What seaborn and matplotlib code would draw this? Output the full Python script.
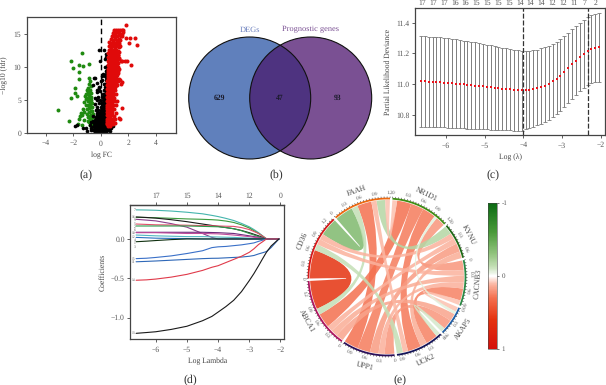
import numpy as np
import seaborn as sns
import matplotlib.pyplot as plt
from matplotlib.patches import Circle, PathPatch
from matplotlib.path import Path
from matplotlib.cm import ScalarMappable
from matplotlib.colors import LinearSegmentedColormap, Normalize

W, H = 606, 385

# panel (a) volcano points
red_x = [1.82, 2.45, 1.85, 2.1, 2.05, 2.65, 2.2, 1.75, 1.9, 1.55, 1.55, 1.3, 1.4,
         0.95, 1.1, 1.25, 1.4, 1.55, 1.62, 0.85, 0.96, 1.05, 1.2, 1.35, 1.5, 1.6,
         0.8, 0.92, 1.05, 1.18, 1.3, 1.45, 1.55, 0.72, 0.85, 1.0, 1.15, 1.3, 1.42,
         0.6, 0.75, 0.9, 1.05, 1.2, 1.35, 0.6, 0.72, 0.88, 1.0, 1.15, 1.3, 1.38,
         0.58, 0.7, 0.85, 1.0, 1.12, 1.28, 0.55, 0.68, 0.82, 0.95, 1.08, 1.25,
         0.55, 0.66, 0.8, 0.92, 1.1, 1.32, 0.52, 0.65, 0.78, 0.9, 1.05, 1.2, 1.45,
         0.52, 0.62, 0.75, 0.88, 1.02, 1.18, 0.5, 0.62, 0.72, 0.86, 1.0, 1.15, 1.3,
         0.5, 0.6, 0.72, 0.85, 0.98, 1.12, 1.28, 0.5, 0.6, 0.7, 0.82, 0.95, 1.08, 1.35,
         0.48, 0.58, 0.68, 0.8, 0.92, 1.05, 1.25, 0.48, 0.58, 0.68, 0.78, 0.9, 1.02, 1.18,
         0.48, 0.56, 0.66, 0.78, 0.88, 1.0, 1.38, 0.46, 0.56, 0.66, 0.76, 0.9, 1.1, 1.5,
         0.46, 0.55, 0.64, 0.76, 0.86, 0.98, 1.45, 0.46, 0.55, 0.64, 0.74, 0.84, 1.0, 1.2,
         0.45, 0.54, 0.64, 0.74, 0.86, 1.12, 0.45, 0.54, 0.62, 0.72, 0.82, 0.98,
         0.45, 0.52, 0.62, 0.72, 0.84, 1.08, 0.45, 0.52, 0.6, 0.7, 0.8, 0.95,
         0.45, 0.52, 0.6, 0.68, 0.78, 1.02, 0.45, 0.52, 0.6, 0.68, 0.8, 0.9,
         0.45, 0.5, 0.58, 0.66, 0.76, 0.88, 0.45, 0.5, 0.58, 0.66, 0.72, 1.0,
         0.7, 0.85, 1.02, 1.18, 1.34, 0.66, 0.8, 0.98, 1.14, 1.3, 0.64, 0.78, 0.96, 1.12, 1.28,
         0.6, 0.74, 0.94, 1.1, 1.3, 0.58, 0.72, 0.92, 1.08, 1.25, 0.56, 0.7, 0.9, 1.06, 1.28,
         0.54, 0.68, 0.86, 1.04, 1.22, 0.54, 0.66, 0.84, 1.0, 1.2, 0.52, 0.64, 0.82, 0.96, 1.15,
         0.52, 0.62, 0.8, 0.94, 1.08, 0.5, 0.6, 0.78, 0.92, 1.05, 0.5, 0.6, 0.76, 0.9,
         0.5, 0.58, 0.72, 0.88, 0.5, 0.58, 0.72, 0.86, 0.5, 0.56, 0.7, 0.84, 0.48, 0.56, 0.68, 0.8]
red_y = [16.5, 14.5, 14.4, 14.4, 13.7, 13.4, 10.3, 11.0, 10.9, 11.0, 3.8, 2.3, 2.1,
         15.6, 15.7, 15.6, 15.7, 15.6, 15.7, 15.2, 15.3, 15.1, 15.3, 15.2, 15.1, 15.3,
         14.8, 14.7, 14.8, 14.7, 14.9, 14.7, 14.8, 14.3, 14.2, 14.3, 14.2, 14.3, 14.2,
         13.8, 13.7, 13.8, 13.7, 13.8, 13.7, 13.2, 13.1, 13.2, 13.1, 13.3, 13.1, 13.2,
         12.7, 12.6, 12.7, 12.6, 12.7, 12.5, 12.1, 12.0, 12.1, 12.0, 12.1, 11.9,
         11.5, 11.4, 11.5, 11.4, 11.5, 11.4, 10.9, 10.8, 10.9, 10.8, 10.9, 10.8, 10.9,
         10.3, 10.2, 10.3, 10.2, 10.3, 10.2, 9.7, 9.6, 9.7, 9.6, 9.7, 9.6, 9.8,
         9.1, 9.0, 9.1, 9.0, 9.1, 9.0, 9.1, 8.5, 8.4, 8.5, 8.4, 8.5, 8.4, 8.2,
         7.9, 7.8, 7.9, 7.8, 7.9, 7.8, 7.9, 7.3, 7.2, 7.3, 7.2, 7.3, 7.2, 7.3,
         6.7, 6.6, 6.7, 6.6, 6.7, 6.6, 8.0, 6.1, 6.0, 6.1, 6.0, 6.1, 6.0, 7.8,
         5.5, 5.4, 5.5, 5.4, 5.5, 5.4, 7.4, 4.9, 4.8, 4.9, 4.8, 4.9, 4.8, 4.9,
         4.3, 4.2, 4.3, 4.2, 4.3, 4.2, 3.7, 3.6, 3.7, 3.6, 3.7, 3.6,
         3.2, 3.1, 3.2, 3.1, 3.2, 3.1, 2.7, 2.6, 2.7, 2.6, 2.7, 2.6,
         2.2, 2.1, 2.2, 2.1, 2.2, 2.1, 1.8, 1.7, 1.8, 1.7, 1.8, 1.7,
         1.4, 1.3, 1.4, 1.3, 1.4, 1.3, 1.5, 1.1, 1.2, 1.1, 1.6, 1.5,
         13.45, 13.5, 13.45, 13.5, 13.45, 12.4, 12.35, 12.4, 12.35, 12.4, 11.8, 11.75, 11.8, 11.75, 11.8,
         11.2, 11.15, 11.2, 11.15, 11.2, 10.6, 10.55, 10.6, 10.55, 10.6, 10.0, 9.95, 10.0, 9.95, 10.0,
         9.4, 9.35, 9.4, 9.35, 9.4, 8.8, 8.75, 8.8, 8.75, 8.8, 8.2, 8.15, 8.2, 8.15, 8.2,
         7.6, 7.55, 7.6, 7.55, 7.6, 7.0, 6.95, 7.0, 6.95, 7.0, 6.4, 6.35, 6.4, 6.35,
         5.8, 5.75, 5.8, 5.75, 5.2, 5.15, 5.2, 5.15, 4.6, 4.55, 4.6, 4.55, 4.0, 3.95, 4.0, 3.95]
green_x = [-1.4, -2.13, -2.0, -1.6, -1.33, -0.87, -1.57, -1.62, -0.85, -0.8, -1.84, -1.86,
           -1.7, -2.2, -3.1, -2.33, -1.65, -0.85, -0.75, -0.9, -1.0, -0.78, -0.92, -1.05,
           -0.72, -0.88, -1.15, -0.7, -0.82, -0.98, -1.1, -0.68, -0.8, -0.95, -1.2, -0.66,
           -0.76, -0.9, -1.05, -1.3, -0.64, -0.74, -0.86, -1.0, -1.25, -1.45, -0.62, -0.72,
           -0.85, -1.0, -1.35, -0.6, -0.7, -0.82, -0.95, -1.5, -0.58, -0.68, -0.8, -0.92,
           -0.62, -0.72, -0.85, -0.58, -0.66, -0.76, -1.55, -1.2, -1.4]
green_y = [12.1, 10.9, 9.85, 10.3, 10.2, 10.55, 9.3, 8.2, 8.3, 7.9, 6.9, 6.1,
           5.7, 5.3, 3.45, 1.9, 1.4, 7.5, 7.2, 6.9, 6.6, 6.6, 6.3, 6.0,
           6.1, 5.8, 5.7, 5.5, 5.4, 5.3, 5.1, 5.0, 4.9, 4.8, 4.7, 4.5,
           4.4, 4.3, 4.2, 3.6, 4.0, 3.9, 3.8, 3.7, 3.2, 3.1, 3.4, 3.3,
           3.2, 2.9, 2.7, 2.9, 2.8, 2.6, 2.4, 2.6, 2.4, 2.3, 2.1, 1.9,
           1.9, 1.7, 1.6, 1.5, 1.3, 1.2, 2.2, 2.0, 1.2]
black_x = [-0.45, -0.35, -0.2, -0.1, 0.05, 0.2, 0.3, 0.4, -0.55, -0.4, -0.25, -0.1, 0.05, 0.2, 0.35, 0.45,
           -0.5, -0.35, -0.2, -0.05, 0.1, 0.25, 0.4, -0.48, -0.3, -0.15, 0.0, 0.15, 0.3, 0.42,
           -0.42, -0.28, -0.12, 0.02, 0.18, 0.32, 0.44, -0.38, -0.22, -0.08, 0.08, 0.22, 0.36,
           -0.3, -0.15, 0.0, 0.14, 0.28, 0.4, -0.34, -0.2, -0.02, 0.12, 0.26, 0.38,
           -0.25, 0.0, 0.15, 0.25, 0.35, 0.44, -0.4, -0.1, 0.08, 0.2, 0.32, 0.42,
           -0.3, -0.05, 0.18, 0.28, 0.38, 0.45, -0.45, -0.18, 0.1, 0.24, 0.34, 0.42,
           0.15, 0.26, 0.36, 0.44, -0.28, -0.08, 0.2, 0.3, 0.4, 0.28, 0.36, 0.43,
           -0.55, -0.3, 0.22, 0.32, 0.4, -0.42, 0.12, 0.35, 0.42, 0.3, 0.38, 0.44,
           0.18, 0.1, 0.4, -0.48, -0.1, 0.35, 0.28, 0.42, -0.05, 0.44, 0.3, 0.38,
           -1.9, -1.75, -1.3, -1.05, -0.8, -0.7, -1.0, -0.65, -0.7, 0.5, 0.6, 0.72, 0.85,
           0.55, 0.65, -0.55, -0.75, -0.6, -0.15, 0.25, 0.02, -0.12, -0.28, 0.38,
           -0.42, -0.28, -0.14, 0.0, 0.14, 0.28, 0.4, -0.46, -0.32, -0.18, -0.04, 0.1, 0.24, 0.38,
           -0.44, -0.3, -0.16, -0.02, 0.12, 0.26, 0.4, -0.4, -0.26, -0.1, 0.04, 0.18, 0.32, 0.42,
           -0.32, -0.18, -0.04, 0.1, 0.24, 0.38, -0.26, -0.1, 0.06, 0.2, 0.34, 0.44,
           0.04, 0.18, 0.3, 0.42, 0.1, 0.22, 0.34, 0.44, 0.16, 0.3, 0.4, 0.2, 0.32, 0.42,
           0.24, 0.34, 0.44, 0.32, 0.4, 0.36, 0.44, 0.38, 0.45]
black_y = [0.1, 0.1, 0.1, 0.1, 0.1, 0.1, 0.1, 0.1, 0.5, 0.5, 0.5, 0.5, 0.5, 0.5, 0.5, 0.5,
           1.0, 1.0, 1.0, 1.0, 1.0, 1.0, 1.0, 1.5, 1.5, 1.5, 1.5, 1.5, 1.5, 1.5,
           2.0, 2.0, 2.0, 2.0, 2.0, 2.0, 2.0, 2.5, 2.5, 2.5, 2.5, 2.5, 2.5,
           3.0, 3.0, 3.0, 3.0, 3.0, 3.0, 3.5, 3.5, 3.5, 3.5, 3.5, 3.5,
           4.0, 4.0, 4.0, 4.0, 4.0, 4.0, 4.4, 4.5, 4.5, 4.5, 4.5, 4.5,
           5.0, 5.0, 5.0, 5.0, 5.0, 5.0, 5.4, 5.5, 5.5, 5.5, 5.5, 5.5,
           6.0, 6.0, 6.0, 6.0, 6.2, 6.4, 6.5, 6.5, 6.5, 7.0, 7.0, 7.0,
           7.3, 7.6, 7.5, 7.5, 7.5, 8.3, 8.0, 8.0, 8.0, 8.6, 8.5, 8.5,
           9.0, 8.7, 9.0, 8.4, 6.8, 9.5, 10.0, 9.6, 11.0, 10.2, 11.2, 12.0,
           1.1, 1.2, 0.8, 0.8, 1.2, 0.7, 0.3, 0.9, 1.6, 0.4, 0.6, 0.8, 1.0,
           0.9, 0.3, 2.6, 0.4, 1.8, 12.6, 12.7, 7.9, 7.0, 6.6, 11.6,
           0.3, 0.3, 0.3, 0.3, 0.3, 0.3, 0.3, 0.8, 0.8, 0.8, 0.8, 0.8, 0.8, 0.8,
           1.3, 1.3, 1.3, 1.3, 1.3, 1.3, 1.3, 1.8, 1.8, 1.8, 1.8, 1.8, 1.8, 1.8,
           2.3, 2.3, 2.3, 2.3, 2.3, 2.3, 2.8, 2.8, 2.8, 2.8, 2.8, 2.8,
           3.3, 3.3, 3.3, 3.3, 3.8, 3.8, 3.8, 3.8, 4.3, 4.3, 4.3, 4.8, 4.8, 4.8,
           5.3, 5.3, 5.3, 5.8, 5.8, 6.3, 6.3, 6.8, 7.3]

# panel (b) venn counts
venn_names = ['DEGs', 'Prognostic genes']
venn_counts = [629, 47, 93]

# panel (c) cross validation
cv_lambda = [-6.64, -6.54, -6.44, -6.34, -6.24, -6.14, -6.04, -5.94, -5.84, -5.74, -5.64, -5.54,
             -5.44, -5.34, -5.24, -5.14, -5.04, -4.94, -4.84, -4.74, -4.64, -4.54, -4.44, -4.34,
             -4.24, -4.14, -4.04, -3.94, -3.84, -3.74, -3.64, -3.54, -3.44, -3.34, -3.24, -3.14,
             -3.04, -2.94, -2.84, -2.74, -2.64, -2.54, -2.44, -2.34, -2.24, -2.14, -2.04]
cv_mean = [11.018, 11.017, 11.016, 11.015, 11.013, 11.011, 11.009, 11.007, 11.005, 11.003, 11.000, 10.998,
           10.996, 10.993, 10.990, 10.988, 10.985, 10.983, 10.980, 10.977, 10.974, 10.971, 10.968, 10.965,
           10.963, 10.961, 10.960, 10.960, 10.962, 10.966, 10.972, 10.980, 10.990, 11.003, 11.018, 11.035,
           11.055, 11.078, 11.103, 11.128, 11.153, 11.177, 11.198, 11.215, 11.228, 11.237, 11.240]
cv_upper = [11.312, 11.311, 11.310, 11.308, 11.306, 11.304, 11.301, 11.298, 11.295, 11.292, 11.288, 11.284,
            11.280, 11.276, 11.272, 11.268, 11.263, 11.258, 11.253, 11.248, 11.243, 11.238, 11.233, 11.228,
            11.224, 11.220, 11.217, 11.215, 11.217, 11.220, 11.225, 11.232, 11.240, 11.250, 11.262, 11.276,
            11.292, 11.311, 11.333, 11.356, 11.378, 11.400, 11.420, 11.436, 11.450, 11.459, 11.465]
cv_lower = [10.722, 10.722, 10.721, 10.720, 10.719, 10.718, 10.717, 10.716, 10.715, 10.713, 10.712, 10.711,
            10.710, 10.708, 10.707, 10.706, 10.705, 10.704, 10.703, 10.702, 10.701, 10.700, 10.699, 10.698,
            10.697, 10.697, 10.697, 10.705, 10.712, 10.720, 10.730, 10.738, 10.750, 10.768, 10.785, 10.805,
            10.825, 10.848, 10.875, 10.900, 10.928, 10.955, 10.975, 10.995, 11.008, 11.014, 11.016]
cv_top_pos = [-6.61, -6.33, -6.05, -5.77, -5.49, -5.21, -4.93, -4.65, -4.37, -4.09, -3.81, -3.54,
              -3.26, -2.98, -2.70, -2.42, -2.14]
cv_top_labels = ['17', '17', '17', '16', '16', '15', '15', '15', '15', '14', '14', '14',
                 '12', '12', '11', '7', '2']
cv_vlines = [-4.0, -2.33]

# panel (d) coefficient paths
path_lambda = [-6.63, -6.3, -6.0, -5.5, -5.0, -4.5, -4.2, -4.0, -3.75, -3.5, -3.25, -3.0, -2.85, -2.7, -2.57,
               -2.45, -2.3, -2.05]
path_values = [
    [0.37, 0.368, 0.365, 0.355, 0.34, 0.32, 0.30, 0.285, 0.262, 0.235, 0.198, 0.155, 0.12, 0.08, 0.04, 0, 0, 0],
    [0.275, 0.273, 0.27, 0.263, 0.255, 0.25, 0.245, 0.24, 0.228, 0.21, 0.18, 0.14, 0.105, 0.07, 0.035, 0, 0, 0],
    [0.28, 0.273, 0.265, 0.245, 0.22, 0.19, 0.172, 0.16, 0.145, 0.13, 0.108, 0.08, 0.06, 0.04, 0.02, 0, 0, 0],
    [0.25, 0.24, 0.23, 0.195, 0.15, 0.07, 0.02, 0, 0, 0, 0, 0, 0, 0, 0, 0, 0, 0],
    [0.19, 0.185, 0.18, 0.178, 0.175, 0.17, 0.167, 0.165, 0.162, 0.16, 0.145, 0.12, 0.095, 0.07, 0.035, 0.005, 0, 0],
    [0.165, 0.165, 0.165, 0.165, 0.165, 0.16, 0.157, 0.155, 0.145, 0.13, 0.105, 0.07, 0.05, 0.03, 0.015, 0, 0, 0],
    [0.085, 0.085, 0.085, 0.085, 0.085, 0.085, 0.082, 0.08, 0.075, 0.07, 0.055, 0.04, 0.03, 0.02, 0.01, 0, 0, 0],
    [0.08, 0.08, 0.08, 0.075, 0.07, 0.07, 0.067, 0.065, 0.058, 0.05, 0.04, 0.03, 0.022, 0.015, 0.007, 0, 0, 0],
    [0.05, 0.045, 0.04, 0.035, 0.03, 0.03, 0.027, 0.025, 0.022, 0.02, 0.015, 0.01, 0.005, 0, 0, 0, 0, 0],
    [0.02, 0.015, 0.01, 0.007, 0.005, 0, 0, 0, 0, 0, 0, 0, 0, 0, 0, 0, 0, 0],
    [-0.035, -0.028, -0.02, -0.008, 0, 0, 0, 0, 0, 0, 0, 0, 0, 0, 0, 0, 0, 0],
    [-0.25, -0.245, -0.235, -0.215, -0.185, -0.15, -0.11, -0.1, -0.095, -0.085, -0.075, -0.06, -0.05, -0.03, -0.015,
     0, 0, 0],
    [-0.29, -0.285, -0.28, -0.27, -0.26, -0.25, -0.246, -0.245, -0.24, -0.235, -0.23, -0.22, -0.21, -0.19, -0.175,
     -0.16, -0.11, 0],
    [-0.525, -0.52, -0.51, -0.485, -0.45, -0.40, -0.36, -0.34, -0.30, -0.26, -0.22, -0.17, -0.125, -0.07, -0.035,
     0, 0, 0],
    [-1.2, -1.19, -1.18, -1.15, -1.11, -1.04, -0.985, -0.93, -0.86, -0.78, -0.67, -0.53, -0.44, -0.34, -0.25,
     -0.17, -0.09, 0],
]
path_colors = ['#45b5ad', '#3c9a3c', '#1a1a1a', '#8a3d8a', '#e0506a', '#2f9a4a', '#6a2a7a', '#c04a9a',
               '#50b8c0', '#2a70c0', '#103010', '#3a70c8', '#2f68b8', '#e03a4a', '#1a1a1a']
path_labels = ['7', '9', '16', '5', '2', '6', '10', '12', '4', '1', '3', '15', '11', '14', '13']
path_top_pos = [-6, -5, -4, -3, -2]
path_top_labels = ['17', '15', '14', '12', '0']

# panel (e) chord diagram
gene_names = ['NR1D1', 'KYNU', 'CACNB3', 'AKAP5', 'UCK2', 'UPP1', 'ABCA1', 'CD36', 'FAAH']
gene_colors = ['#3f8f12', '#1f6a14', '#2a8a45', '#1f5fa8', '#14145a', '#2c0f5a', '#b01560', '#d81818', '#f06a10']
link_from = [6, 7, 6, 7, 7, 7, 6, 6, 6, 6, 8, 8, 8, 8, 0, 0, 0, 0, 1, 1, 2, 2, 2, 3, 3]
link_to = [7, 8, 8, 4, 1, 2, 0, 1, 2, 3, 5, 4, 0, 1, 5, 4, 2, 3, 5, 4, 5, 4, 3, 5, 4]
link_value = [0.60, -0.38, -0.13, -0.13, 0.12, 0.12, 0.30, 0.12, 0.14, 0.16, 0.30, 0.11, 0.10, -0.18,
              0.27, 0.28, 0.20, -0.06, 0.18, 0.14, 0.13, 0.25, 0.10, 0.20, -0.09]
cbar_ticks = [-1, 0, 1]

sns.set_theme(style='ticks')
plt.rcParams['font.family'] = ['Liberation Serif', 'DejaVu Sans']
plt.rcParams['text.hinting'] = 'no_hinting'
plt.rcParams['axes.edgecolor'] = '#444444'
plt.rcParams['axes.linewidth'] = 0.9
plt.rcParams['xtick.color'] = '#444444'
plt.rcParams['ytick.color'] = '#444444'
plt.rcParams['xtick.labelcolor'] = '#555555'
plt.rcParams['ytick.labelcolor'] = '#555555'
plt.rcParams['axes.labelcolor'] = '#444444'
plt.rcParams['xtick.labelsize'] = 5.5
plt.rcParams['ytick.labelsize'] = 5.5
plt.rcParams['axes.labelsize'] = 5.5
plt.rcParams['xtick.major.size'] = 2
plt.rcParams['ytick.major.size'] = 2
plt.rcParams['xtick.major.width'] = 0.6
plt.rcParams['ytick.major.width'] = 0.6
plt.rcParams['xtick.major.pad'] = 3
plt.rcParams['ytick.major.pad'] = 2

fig = plt.figure(figsize=(W / 100, H / 100), dpi=100)


def px_axes(left, top, right, bottom):
    return fig.add_axes([left / W, 1 - bottom / H, (right - left) / W, (bottom - top) / H])


# (a) volcano
ax = px_axes(27, 17, 175.5, 133)
sns.scatterplot(x=green_x, y=green_y, color='#1f8a10', s=8, linewidth=0, ax=ax)
sns.scatterplot(x=black_x, y=black_y, color='black', s=7, linewidth=0, ax=ax)
sns.scatterplot(x=red_x, y=red_y, color='#e00a0a', s=8.5, linewidth=0, ax=ax)
ax.axvline(0, color='black', lw=1.0, ls=(0, (4, 2.5)))
ax.set_xlim(-5.36, 5.42)
ax.set_ylim(0, 17.65)
ax.set_xticks([-4, -2, 0, 2, 4])
ax.set_yticks([0, 5, 10, 15])
ax.set_xlabel('log FC', labelpad=3)
ax.set_ylabel('\u2212log10 (fdr)', labelpad=4)

# (c) cross validation curve
ax = px_axes(415, 8, 605, 135)
ax.errorbar(cv_lambda, cv_mean, yerr=[np.subtract(cv_mean, cv_lower), np.subtract(cv_upper, cv_mean)],
            fmt='none', ecolor='#7d7d7d', elinewidth=0.7, capsize=1.5, capthick=0.6)
sns.scatterplot(x=cv_lambda, y=cv_mean, color='#e8141c', s=4, marker='s', linewidth=0, ax=ax, zorder=3)
for v in cv_vlines:
    ax.axvline(v, color='#333333', lw=0.9, ls=(0, (4, 1.5)))
ax.set_xlim(-6.795, -1.89)
ax.set_ylim(10.668, 11.496)
ax.set_xticks([-6, -5, -4, -3, -2])
ax.set_yticks([10.8, 11.0, 11.2, 11.4])
ax.set_yticklabels(['10.8', '11.0', '11.2', '11.4'])
ax.set_xlabel('Log (\u03bb)', labelpad=3)
ax.set_ylabel('Partial Likelihood Deviance', labelpad=3)
top = ax.secondary_xaxis('top')
top.set_xticks(cv_top_pos)
top.set_xticklabels(cv_top_labels)
top.tick_params(length=0, pad=1)
top.spines['top'].set_visible(False)

# (d) coefficient paths
ax = px_axes(130.3, 205, 284, 339.3)
for vals, col in zip(path_values, path_colors):
    sns.lineplot(x=path_lambda, y=vals, color=col, lw=0.8, errorbar=None, ax=ax)
# spread the tiny start labels so they stay readable
label_y = None
for i in np.argsort([-v[0] for v in path_values]):
    yp = path_values[i][0]
    if label_y is not None and label_y - yp < 0.042:
        yp = label_y - 0.042
    label_y = yp
    ax.text(-6.65, yp, path_labels[i], fontsize=2.6, color='#555555', ha='right', va='center')
ax.set_xlim(-6.817, -1.885)
ax.set_ylim(-1.276, 0.432)
ax.set_xticks([-6, -5, -4, -3, -2])
ax.set_yticks([-1.0, -0.5, 0.0])
ax.set_yticklabels(['\u22121.0', '\u22120.5', '0.0'])
ax.set_xlabel('Log Lambda', labelpad=3)
ax.set_ylabel('Coefficients', labelpad=3)
top = ax.secondary_xaxis('top')
top.set_xticks(path_top_pos)
top.set_xticklabels(path_top_labels)
top.tick_params(pad=2)

# overlay in pixel coordinates for venn, chord and captions
ov = fig.add_axes([0, 0, 1, 1], zorder=5)
ov.set_xlim(0, W)
ov.set_ylim(H, 0)
ov.axis('off')
ov.patch.set_alpha(0)

# (b) venn
c1 = Circle((249.7, 98), 61, fc='#6080bc', ec='none')
c2 = Circle((310.7, 98), 61, fc='#7a5093', ec='none')
ov.add_patch(c1)
ov.add_patch(c2)
both = Circle((310.7, 98), 61, fc='#4e3380', ec='none')
ov.add_patch(both)
both.set_clip_path(c1)
ov.add_patch(Circle((249.7, 98), 61, fc='none', ec='#111111', lw=0.8))
ov.add_patch(Circle((310.7, 98), 61, fc='none', ec='#111111', lw=0.8))
ov.text(250, 29.5, venn_names[0], color='#6a7fbd', fontsize=6, ha='center', va='center')
ov.text(310.5, 29.5, venn_names[1], color='#7a5093', fontsize=6, ha='center', va='center')
for xp, n in zip([219, 280, 337.5], venn_counts):
    ov.text(xp, 98, str(n), color='#1a1a2a', fontsize=5.5, fontweight='bold', ha='center', va='center')

# (e) chord
red_cmap = LinearSegmentedColormap.from_list('cor', [
    (0.0, '#0b6a12'), (0.2, '#4a9a3a'), (0.35, '#93c47f'), (0.44, '#c6e0b8'), (0.5, '#ffffff'),
    (0.56, '#fbb39e'), (0.65, '#f4704f'), (0.8, '#e4320f'), (1.0, '#d4100c')])
norm = Normalize(-1, 1)
cx, cy, rad = 387, 277, 77
gap = 1.8
n_genes = len(gene_names)
totals = np.zeros(n_genes)
for a, b, v in zip(link_from, link_to, link_value):
    totals[a] += abs(v)
    totals[b] += abs(v)
scale = (360 - n_genes * gap) / totals.sum()


def polar(theta, r):
    t = np.radians(theta)
    return cx + r * np.sin(t), cy - r * np.cos(t)


starts = {}
angle = 4.0
for i in range(n_genes):
    starts[i] = angle
    angle += totals[i] * scale + gap

# ribbons sit in each sector so that neighbours do not cross
slots = {}
for i in range(n_genes):
    mine = [(k, a if b == i else b) for k, (a, b) in enumerate(zip(link_from, link_to)) if i in (a, b)]
    mine.sort(key=lambda m: (i - m[1]) % n_genes)
    pos = starts[i]
    for k, other in mine:
        w = abs(link_value[k]) * scale
        slots[(k, i)] = (pos, pos + w)
        pos += w


def arc(t0, t1, r=rad):
    return [polar(t, r) for t in np.linspace(t0, t1, 12)]


order = np.argsort(np.abs(link_value))[::-1]
for k in order:
    a, b = link_from[k], link_to[k]
    a0, a1 = slots[(k, a)]
    b0, b1 = slots[(k, b)]
    verts = arc(a0, a1)
    codes = [Path.MOVETO] + [Path.LINETO] * (len(verts) - 1)
    verts += [(cx, cy), polar(b0, rad)]
    codes += [Path.CURVE3, Path.CURVE3]
    seg = arc(b0, b1)[1:]
    verts += seg
    codes += [Path.LINETO] * len(seg)
    verts += [(cx, cy), polar(a0, rad)]
    codes += [Path.CURVE3, Path.CURVE3]
    ov.add_patch(PathPatch(Path(verts, codes), fc=red_cmap(norm(link_value[k])), ec='none', alpha=0.85))

for i in range(n_genes):
    t0 = starts[i]
    t1 = t0 + totals[i] * scale
    xs, ys = zip(*arc(t0, t1, 78.5))
    ov.plot(xs, ys, color=gene_colors[i], lw=1.3, solid_capstyle='butt')
    for u in np.arange(0, totals[i] + 0.001, 0.06):
        th = t0 + u * scale
        p0, p1 = polar(th, 79.2), polar(th, 80.4)
        ov.plot([p0[0], p1[0]], [p0[1], p1[1]], color='#222222', lw=0.35)
    for u in np.arange(0, totals[i] + 0.001, 0.3):
        th = t0 + u * scale
        xp, yp = polar(th, 84)
        rot = 180 - th if 90 < th % 360 < 270 else -th
        ov.text(xp, yp, '0' if u == 0 else f'{u:.1f}', fontsize=3.8, color='#555555',
                rotation=rot, rotation_mode='anchor', ha='center', va='center')
    mid = (t0 + t1) / 2
    xp, yp = polar(mid, 91.5)
    rot = 180 - mid if 90 < mid % 360 < 270 else -mid
    ov.text(xp, yp, gene_names[i], fontsize=5.5, color='#444444', rotation=rot, rotation_mode='anchor',
            ha='center', va='center')

cax = px_axes(488, 203, 497, 349)
cb = fig.colorbar(ScalarMappable(norm=norm, cmap=red_cmap), cax=cax, ticks=cbar_ticks)
cax.invert_yaxis()
cb.outline.set_linewidth(0.4)
cb.ax.tick_params(length=1.5, width=0.5, labelsize=5, pad=2)
cb.ax.set_yticklabels(['-1', '0', '1'])

for xp, yp, s in [(85.7, 175, '(a)'), (276, 175, '(b)'), (493, 175, '(c)'), (190, 380, '(d)'), (400, 380, '(e)')]:
    ov.text(xp, yp, s, fontsize=8.5, color='#333333', ha='center', va='center')

fig.savefig('out.png', dpi=100)
